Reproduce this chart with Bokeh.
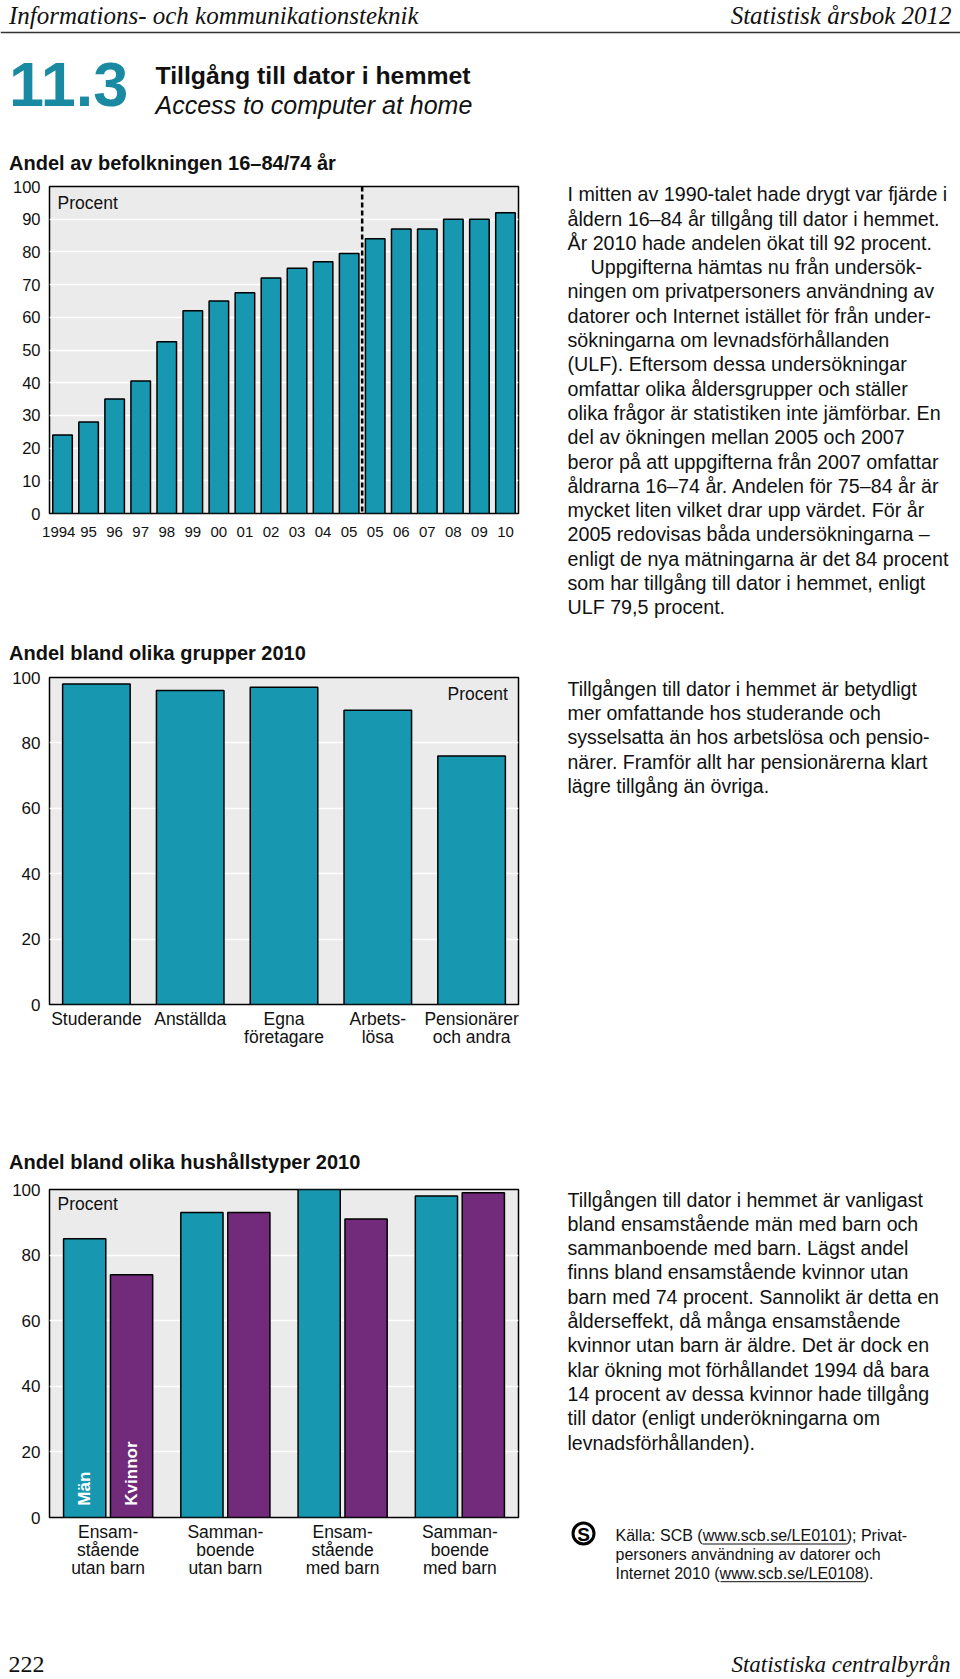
import numpy as np
from bokeh.plotting import figure
from bokeh.layouts import column, row
from bokeh.models import Range1d, Span, Label, FixedTicker, ColumnDataSource, FactorRange
from bokeh.transform import dodge
from bokeh.core.properties import value
from bokeh.embed import file_html
from bokeh.resources import INLINE

# ---------------- data ----------------
years = ["1994", "95", "96", "97", "98", "99", "00", "01", "02", "03", "04", "05",
         "05", "06", "07", "08", "09", "10"]
share_population = [24, 28, 35, 40.5, 52.5, 62, 65, 67.5, 72, 75, 77, 79.5,
                    84, 87, 87, 90, 90, 92]
last_ulf_year = 11  # index of the last bar from the ULF survey (2005)

groups = ["Studerande", "Anställda", "Egna\nföretagare", "Arbets-\nlösa", "Pensionärer\noch andra"]
group_share = [98, 96, 97, 90, 76]

households = ["Ensam-\nstående\nutan barn", "Samman-\nboende\nutan barn",
              "Ensam-\nstående\nmed barn", "Samman-\nboende\nmed barn"]
men = [85, 93, 100, 98]
women = [74, 93, 91, 99]

ticks_10 = list(range(0, 101, 10))
ticks_20 = list(range(0, 101, 20))

# ---------------- styles ----------------
SANS = "Liberation Sans"
SERIF = "Liberation Serif"
TEAL = "#1797b0"
TEAL_HEAD = "#1a8aa3"
PURPLE = "#722a7b"
BG = "#ebebeb"
INK = "#111111"


def pix_fig(w, h):
    p = figure(width=w, height=h, x_range=Range1d(0, w), y_range=Range1d(h, 0),
               output_backend="svg", toolbar_location=None,
               x_axis_location=None, y_axis_location=None,
               min_border=0, outline_line_color=None, frame_align=False,
               background_fill_color="white", border_fill_color="white")
    for g in p.grid:
        g.visible = False
    return p


def put_text(p, xs, ys, texts, size, style="normal", font=SANS, color=INK,
             align="left", baseline="middle", angle=0):
    src = ColumnDataSource(dict(x=xs, y=ys, t=texts))
    p.text(x="x", y="y", text="t", source=src, text_font=value(font),
           text_font_size=value(size), text_font_style=value(style),
           text_color=color, text_align=value(align), text_baseline=value(baseline),
           angle=angle)


def text_block(p, lines, x0, y0, lh, size, indents=None):
    indents = indents or {}
    xs = [x0 + indents.get(i, 0) for i in range(len(lines))]
    ys = [y0 + i * lh for i in range(len(lines))]
    put_text(p, xs, ys, lines, size)


def chart_fig(w, h, x_range, left, right, top, bottom):
    p = figure(width=w, height=h, x_range=x_range, y_range=Range1d(0, 100),
               output_backend="svg", toolbar_location=None, frame_align=False,
               min_border_left=left, min_border_right=right,
               min_border_top=top, min_border_bottom=bottom,
               background_fill_color=BG, border_fill_color="white",
               outline_line_color="black", outline_line_width=1.5)
    for ax in (p.xaxis[0], p.yaxis[0]):
        ax.axis_line_color = None
        ax.major_tick_line_color = None
        ax.minor_tick_line_color = None
        ax.major_tick_in = 0
        ax.major_tick_out = 0
        ax.minor_tick_in = 0
        ax.minor_tick_out = 0
        ax.major_label_text_font = SANS
        ax.major_label_text_color = INK
    p.yaxis.major_label_standoff = 9
    p.xgrid.grid_line_color = None
    p.ygrid.grid_line_color = "white"
    p.ygrid.grid_line_width = 1.5
    return p


# ---------------- header ----------------
header = pix_fig(960, 176)
put_text(header, [8.5], [14.5], ["Informations- och kommunikationsteknik"], "25px",
         style="italic", font=SERIF)
put_text(header, [951], [14.5], ["Statistisk årsbok 2012"], "25px",
         style="italic", font=SERIF, align="right")
header.segment(x0=[0], y0=[32], x1=[960], y1=[32], line_color="#333333", line_width=1.5)
put_text(header, [8.6], [84], ["11.3"], "63px", style="bold", color=TEAL_HEAD)
put_text(header, [155], [75], ["Tillgång till dator i hemmet"], "24.8px", style="bold")
put_text(header, [155], [104], ["Access to computer at home"], "25px", style="italic")
put_text(header, [8.6], [162.7], ["Andel av befolkningen 16–84/74 år"], "20px", style="bold")

# ---------------- chart 1 ----------------
x_idx = list(range(len(years)))
p1 = chart_fig(528, 454, Range1d(-0.5, len(years) - 0.5), 49, 10, 10, 117)
src1 = ColumnDataSource(dict(x=x_idx, top=share_population))
p1.vbar(x="x", top="top", bottom=0, width=0.75, source=src1,
        fill_color=TEAL, line_color="black", line_width=1.5)
p1.yaxis.ticker = FixedTicker(ticks=ticks_10)
p1.xaxis.ticker = FixedTicker(ticks=x_idx)
year_labels = {i: lab for i, lab in zip(x_idx, years)}
year_labels[0] = years[0] + "\u2002"  # nudge the long first label left, as in the print
p1.xaxis.major_label_overrides = year_labels
p1.yaxis.major_label_text_font_size = "16.5px"
p1.xaxis.major_label_text_font_size = "15px"
p1.xaxis.major_label_standoff = 9
p1.add_layout(Span(location=last_ulf_year + 0.5, dimension="height",
                   line_color="black", line_width=2.5, line_dash="5 3"))
p1.add_layout(Label(x=-0.5, y=95.1, x_offset=8, text="Procent", text_font=SANS,
                    text_font_size="17.5px", text_baseline="middle", text_color=INK))

t1_lines = [
    "I mitten av 1990-talet hade drygt var fjärde i",
    "åldern 16–84 år tillgång till dator i hemmet.",
    "År 2010 hade andelen ökat till 92 procent.",
    "Uppgifterna hämtas nu från undersök-",
    "ningen om privatpersoners användning av",
    "datorer och Internet istället för från under-",
    "sökningarna om levnadsförhållanden",
    "(ULF). Eftersom dessa undersökningar",
    "omfattar olika åldersgrupper och ställer",
    "olika frågor är statistiken inte jämförbar. En",
    "del av ökningen mellan 2005 och 2007",
    "beror på att uppgifterna från 2007 omfattar",
    "åldrarna 16–74 år. Andelen för 75–84 år är",
    "mycket liten vilket drar upp värdet. För år",
    "2005 redovisas båda undersökningarna –",
    "enligt de nya mätningarna är det 84 procent",
    "som har tillgång till dator i hemmet, enligt",
    "ULF 79,5 procent.",
]
t1 = pix_fig(432, 454)
text_block(t1, t1_lines, 39, 17.7, 24.3, "19.7px", indents={3: 23})

# ---------------- chart 2 ----------------
title2 = pix_fig(528, 37)
put_text(title2, [8.6], [22], ["Andel bland olika grupper 2010"], "20px", style="bold")

p2 = chart_fig(528, 473, FactorRange(*groups), 49, 10, 10, 136)
p2.vbar(x=groups, top=group_share, bottom=0, width=0.72,
        fill_color=TEAL, line_color="black", line_width=1.5)
p2.yaxis.ticker = FixedTicker(ticks=ticks_20)
p2.yaxis.major_label_text_font_size = "17px"
p2.xaxis.major_label_text_font_size = "17.5px"
p2.xaxis.major_label_text_line_height = 0.92
p2.xaxis.major_label_standoff = 4
p2.add_layout(Label(x=len(groups), y=95.0, x_offset=-10.6, text="Procent", text_font=SANS,
                    text_font_size="17.5px", text_baseline="middle", text_align="right",
                    text_color=INK))

t2_lines = [
    "Tillgången till dator i hemmet är betydligt",
    "mer omfattande hos studerande och",
    "sysselsatta än hos arbetslösa och pensio-",
    "närer. Framför allt har pensionärerna klart",
    "lägre tillgång än övriga.",
]
t2 = pix_fig(432, 510)
text_block(t2, t2_lines, 39, 58, 24.4, "19.5px")

# ---------------- chart 3 ----------------
title3 = pix_fig(528, 37)
put_text(title3, [8.6], [21], ["Andel bland olika hushållstyper 2010"], "20px", style="bold")

p3 = chart_fig(528, 423, FactorRange(*households), 49, 10, 12, 83)
src3 = ColumnDataSource(dict(hh=households, men=men, women=women))
p3.vbar(x=dodge("hh", -0.2, range=p3.x_range), top="men", bottom=0, width=0.36,
        source=src3, fill_color=TEAL, line_color="black", line_width=1.5)
p3.vbar(x=dodge("hh", 0.2, range=p3.x_range), top="women", bottom=0, width=0.36,
        source=src3, fill_color=PURPLE, line_color="black", line_width=1.5)
p3.yaxis.ticker = FixedTicker(ticks=ticks_20)
p3.yaxis.major_label_text_font_size = "17px"
p3.xaxis.major_label_text_font_size = "17.5px"
p3.xaxis.major_label_text_line_height = 0.92
p3.xaxis.major_label_standoff = 4
p3.add_layout(Label(x=0, y=95.5, x_offset=8, text="Procent", text_font=SANS,
                    text_font_size="17.5px", text_baseline="middle", text_color=INK))
sex_src_m = ColumnDataSource(dict(hh=[households[0]], y=[3.6], t=["Män"]))
sex_src_k = ColumnDataSource(dict(hh=[households[0]], y=[3.6], t=["Kvinnor"]))
for src, off in ((sex_src_m, -0.2), (sex_src_k, 0.2)):
    p3.text(x=dodge("hh", off, range=p3.x_range), y="y", text="t", source=src,
            angle=90, angle_units="deg", text_font=value(SANS), text_font_size=value("17px"),
            text_font_style=value("bold"), text_color="white",
            text_align=value("left"), text_baseline=value("middle"))

t3_lines = [
    "Tillgången till dator i hemmet är vanligast",
    "bland ensamstående män med barn och",
    "sammanboende med barn. Lägst andel",
    "finns bland ensamstående kvinnor utan",
    "barn med 74 procent. Sannolikt är detta en",
    "ålderseffekt, då många ensamstående",
    "kvinnor utan barn är äldre. Det är dock en",
    "klar ökning mot förhållandet 1994 då bara",
    "14 procent av dessa kvinnor hade tillgång",
    "till dator (enligt underökningarna om",
    "levnadsförhållanden).",
]
source_lines = [
    "Källa: SCB (www.scb.se/LE0101); Privat-",
    "personers användning av datorer och",
    "Internet 2010 (www.scb.se/LE0108).",
]
t3 = pix_fig(432, 460)
text_block(t3, t3_lines, 39, 59, 24.3, "19.6px")
text_block(t3, source_lines, 87, 395, 18.8, "16px")
t3.segment(x0=[174, 192], y0=[403.5, 441.2], x1=[319, 337], y1=[403.5, 441.2],
           line_color=INK, line_width=1)
t3.scatter(x=[55], y=[393], size=21, marker="circle", fill_color="white",
           line_color="black", line_width=3)
put_text(t3, [55], [393.5], ["S"], "19px", style="bold", color="black", align="center")

# ---------------- footer ----------------
footer = pix_fig(960, 79)
put_text(footer, [8], [64], ["222"], "24px", font=SERIF)
put_text(footer, [950], [64], ["Statistiska centralbyrån"], "23px", style="italic",
         font=SERIF, align="right")

page = column(
    header,
    row(p1, t1),
    row(column(title2, p2), t2),
    row(column(title3, p3), t3),
    footer,
)

open("out.html", "w").write(file_html(page, INLINE))
